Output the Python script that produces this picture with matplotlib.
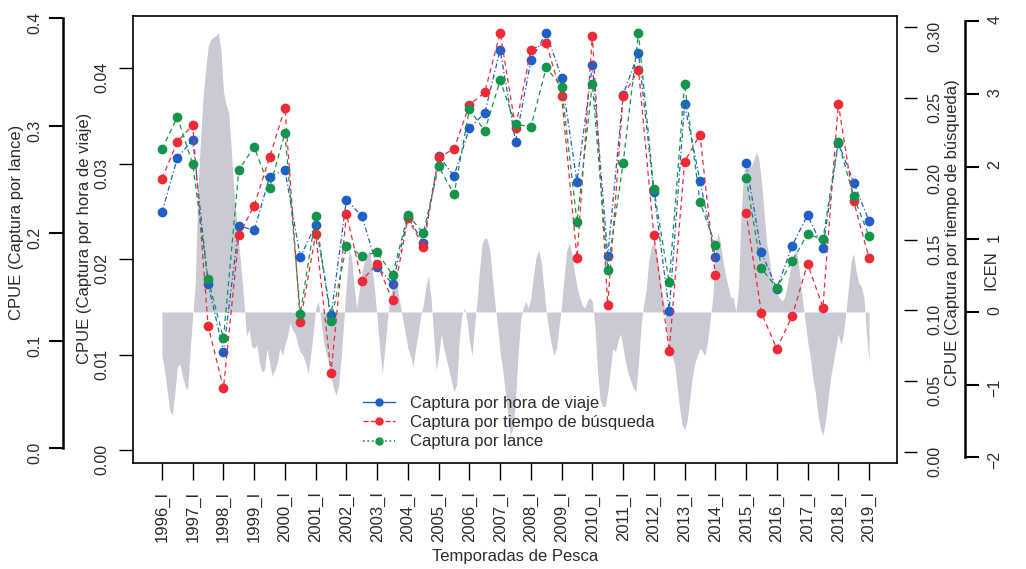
import numpy as np
import matplotlib
matplotlib.use("Agg")
import matplotlib.pyplot as plt
from matplotlib.lines import Line2D

plt.rcParams['font.family'] = ['Liberation Sans', 'DejaVu Sans']

# etiquetas del eje x (una por año, temporada I)
temporadas = ["1996_I", "1997_I", "1998_I", "1999_I", "2000_I", "2001_I",
              "2002_I", "2003_I", "2004_I", "2005_I", "2006_I", "2007_I",
              "2008_I", "2009_I", "2010_I", "2011_I", "2012_I", "2013_I",
              "2014_I", "2015_I", "2016_I", "2017_I", "2018_I", "2019_I"]

# CPUE por temporada (I y II de cada año), 2014_II sin dato
hora_viaje = [0.0249, 0.0306, 0.0325, 0.0174, 0.0103, 0.0235, 0.0230, 0.0286,
              0.0293, 0.0202, 0.0236, 0.0141, 0.0262, 0.0245, 0.0192, 0.0174,
              0.0244, 0.0217, 0.0308, 0.0287, 0.0337, 0.0353, 0.0419, 0.0323,
              0.0408, 0.0437, 0.0390, 0.0281, 0.0403, 0.0203, 0.0372, 0.0416,
              0.0270, 0.0146, 0.0362, 0.0282, 0.0202, np.nan, 0.0301, 0.0207,
              0.0169, 0.0214, 0.0246, 0.0212, 0.0322, 0.0280, 0.0240]
tiempo_busqueda = [0.193, 0.219, 0.231, 0.089, 0.045, 0.153, 0.174, 0.208,
                   0.243, 0.092, 0.154, 0.056, 0.168, 0.121, 0.133, 0.107,
                   0.165, 0.145, 0.208, 0.214, 0.245, 0.254, 0.296, 0.229,
                   0.284, 0.289, 0.251, 0.137, 0.294, 0.104, 0.251, 0.270,
                   0.153, 0.071, 0.205, 0.224, 0.125, np.nan, 0.169, 0.098,
                   0.073, 0.096, 0.133, 0.102, 0.246, 0.177, 0.137]
lance = [0.278, 0.308, 0.264, 0.157, 0.102, 0.259, 0.280, 0.242,
         0.293, 0.125, 0.216, 0.118, 0.188, 0.179, 0.182, 0.161,
         0.217, 0.200, 0.262, 0.236, 0.315, 0.295, 0.342, 0.301,
         0.299, 0.354, 0.336, 0.210, 0.339, 0.166, 0.265, 0.386,
         0.241, 0.154, 0.339, 0.229, 0.189, np.nan, 0.251, 0.167,
         0.149, 0.174, 0.199, 0.194, 0.285, 0.234, 0.197]

# ICEN mensual (1996 - 2019)
icen = [-0.60, -0.80, -1.07, -1.35, -1.42, -1.12, -0.75, -0.72, -0.88, -1.02,
        -1.07, -0.51, -0.05, 0.40, 1.70, 2.34, 2.95, 3.31, 3.65, 3.75,
        3.78, 3.80, 3.85, 3.60, 3.03, 2.85, 2.75, 2.26, 1.70, 1.29,
        0.92, 0.55, 0.13, -0.33, -0.24, -0.47, -0.50, -0.45, -0.70, -0.82,
        -0.80, -0.50, -0.70, -0.88, -0.80, -0.70, -0.50, -0.60, -0.45, -0.33,
        -0.15, -0.25, -0.30, -0.45, -0.55, -0.60, -0.70, -0.85, -0.60, -0.30,
        0.05, 0.15, -0.10, -0.40, -0.55, -0.70, -0.90, -1.05, -1.15, -1.00,
        -0.60, -0.10, 0.40, 0.85, 0.75, 0.35, 0.05, 0.30, 0.55, 0.70,
        0.80, 0.85, 0.60, 0.30, -0.10, -0.50, -0.85, -0.50, -0.10, 0.20,
        0.35, 0.45, 0.30, 0.10, -0.10, -0.30, -0.50, -0.60, -0.75, -0.50,
        -0.30, -0.05, 0.10, 0.35, 0.50, 0.20, -0.30, -0.80, -0.60, -0.30,
        -0.50, -0.65, -0.80, -0.95, -1.10, -1.00, -0.40, -0.05, 0.05, -0.10,
        -0.40, -0.60, -0.20, 0.15, 0.60, 0.95, 1.02, 1.00, 0.85, 0.45,
        0.10, -0.20, -0.55, -0.80, -1.10, -1.40, -1.70, -1.60, -1.20, -0.60,
        -0.10, 0.05, 0.15, 0.05, 0.20, 0.50, 0.75, 0.85, 0.70, 0.35,
        0.00, -0.25, -0.45, -0.60, -0.50, -0.20, 0.10, 0.50, 0.85, 0.95,
        0.80, 0.55, 0.35, 0.20, 0.10, 0.05, 0.15, 0.20, 0.15, -0.20,
        -0.80, -1.20, -1.30, -1.30, -1.10, -0.80, -0.50, -0.55, -0.40, -0.30,
        -0.50, -0.70, -0.85, -0.95, -1.05, -1.10, -0.70, -0.20, 0.10, 0.30,
        0.70, 0.90, 0.95, 0.85, 0.60, 0.30, 0.10, -0.30, -0.55, -0.60,
        -0.70, -1.00, -1.30, -1.55, -1.62, -1.50, -1.20, -0.90, -0.70, -0.60,
        -0.50, -0.55, -0.60, -0.40, -0.10, 0.20, 0.80, 1.10, 0.95, 0.70,
        0.50, 0.35, 0.20, 0.20, 0.00, 0.30, 1.30, 1.90, 2.10, 2.05,
        2.00, 2.10, 2.20, 2.10, 1.80, 1.40, 0.95, 0.75, 0.50, 0.35,
        0.25, 0.20, 0.15, 0.20, 0.35, 0.55, 0.70, 0.85, 0.80, 0.50,
        0.15, -0.10, -0.40, -0.60, -0.90, -1.10, -1.40, -1.60, -1.70, -1.50,
        -1.20, -0.90, -0.70, -0.50, -0.30, -0.45, -0.30, 0.00, 0.35, 0.70,
        0.80, 0.55, 0.40, 0.35, 0.20, -0.30, -0.70]

azul = '#1f5fc8'
rojo = '#ee2a36'
verde = '#15954b'
gris = '#c9cad4'
texto = '#2b2b2b'

x = np.arange(len(hora_viaje))
x_icen = np.arange(len(icen)) / 6.0

W, H = 1026, 569
fig = plt.figure(figsize=(W / 100, H / 100), dpi=100)
ax = fig.add_axes([133 / W, 1 - 463 / H, 764 / W, 447 / H])

# ICEN (area gris, eje derecho exterior)
ax.fill_between(x_icen, icen, 0, color=gris, lw=0)
ax.set_xlim(-1.887, 47.82)
ax.set_ylim(-2.078, 4.073)
ax.set_xticks(np.arange(0, 47, 2))
ax.set_xticklabels(temporadas)
ax.tick_params(axis='x', length=12, width=1, pad=8, labelrotation=90,
               labelsize=12, labelcolor=texto)
for s in ['top', 'bottom', 'left']:
    ax.spines[s].set_linewidth(1.2)

# captura por hora de viaje (eje izquierdo interior)
ax_viaje = ax.twinx()
ax_viaje.set_ylim(-0.00136, 0.04545)
ax_viaje.yaxis.tick_left()
ax_viaje.set_yticks([0.00, 0.01, 0.02, 0.03, 0.04])
ax_viaje.set_yticklabels(['0.00', '0.01', '0.02', '0.03', '0.04'])
ax_viaje.tick_params(axis='y', length=10, width=1, pad=7, labelrotation=90,
                     labelsize=11.5, labelcolor=texto)
for s in ['top', 'bottom', 'left']:
    ax_viaje.spines[s].set_visible(False)
ax_viaje.spines['right'].set_linewidth(1.2)

# captura por tiempo de busqueda (eje derecho interior)
ax_busq = ax.twinx()
ax_busq.set_ylim(-0.00776, 0.3078)
ax_busq.set_yticks([0.00, 0.05, 0.10, 0.15, 0.20, 0.25, 0.30])
ax_busq.set_yticklabels(['0.00', '0.05', '0.10', '0.15', '0.20', '0.25', '0.30'])
ax_busq.spines['right'].set_position(('outward', 5))
for s in ['top', 'bottom', 'left', 'right']:
    ax_busq.spines[s].set_visible(False)
ax_busq.tick_params(axis='y', length=9, width=1, pad=8, labelrotation=90,
                    labelsize=11.5, labelcolor=texto)

# captura por lance (eje izquierdo exterior)
ax_lance = ax.twinx()
ax_lance.set_ylim(-0.01395, 0.4019)
ax_lance.yaxis.tick_left()
ax_lance.spines['left'].set_position(('axes', -0.0916))
ax_lance.spines['left'].set_bounds(0, 0.4)
ax_lance.spines['left'].set_linewidth(1.8)
for s in ['top', 'bottom', 'right']:
    ax_lance.spines[s].set_visible(False)
ax_lance.set_yticks([0.0, 0.1, 0.2, 0.3, 0.4])
ax_lance.set_yticklabels(['0.0', '0.1', '0.2', '0.3', '0.4'])
ax_lance.tick_params(axis='y', length=10, width=1.5, pad=5, labelrotation=90,
                     labelsize=11.5, labelcolor=texto)

# eje del ICEN (despues de twinx, que lo devuelve a la izquierda)
ax.yaxis.tick_right()
ax.spines['right'].set_position(('axes', 1.089))
ax.spines['right'].set_bounds(-2, 4)
ax.spines['right'].set_linewidth(1.8)
ax.set_yticks([-2, -1, 0, 1, 2, 3, 4])
ax.tick_params(axis='y', length=10, width=1.5, pad=6, labelrotation=90,
               labelsize=11.5, labelcolor=texto)

ax_viaje.plot(x, hora_viaje, color=azul, ls=(0, (4, 2, 1, 2)), lw=0.9,
              marker='o', ms=6, mec=azul)
ax_busq.plot(x, tiempo_busqueda, color=rojo, ls=(0, (4, 3)), lw=0.9,
             marker='o', ms=6, mec=rojo)
ax_lance.plot(x, lance, color=verde, ls=(0, (4, 3)), lw=0.9,
              marker='o', ms=6, mec=verde)

# titulos de ejes
fig.text(17 / W, 1 - 222 / H, 'CPUE (Captura por lance)', rotation=90,
         ha='center', va='center', fontsize=12, color=texto)
fig.text(85 / W, 1 - 238 / H, 'CPUE (Captura por hora de viaje)', rotation=90,
         ha='center', va='center', fontsize=12, color=texto)
fig.text(953 / W, 1 - 233 / H, 'CPUE (Captura por tiempo de búsqueda)',
         rotation=90, ha='center', va='center', fontsize=12, color=texto)
fig.text(991 / W, 1 - 270 / H, 'ICEN', rotation=90,
         ha='center', va='center', fontsize=12, color=texto)
fig.text(515 / W, 1 - 557 / H, 'Temporadas de Pesca', ha='center',
         va='center', fontsize=12, color=texto)

handles = [
    Line2D([], [], color=azul, ls='-', lw=1, marker='o', ms=5),
    Line2D([], [], color=rojo, ls='--', lw=1, marker='o', ms=5),
    Line2D([], [], color=verde, ls=':', lw=1.2, marker='o', ms=5),
]
etiquetas = ['Captura por hora de viaje', 'Captura por tiempo de búsqueda',
             'Captura por lance']
fig.legend(handles, etiquetas, loc='upper left',
           bbox_to_anchor=(363 / W, 1 - 396 / H), frameon=False,
           fontsize=12, handlelength=1.9, handletextpad=0.9,
           labelspacing=0.25, borderpad=0, borderaxespad=0,
           labelcolor=texto)

fig.savefig('out.png', dpi=100)
